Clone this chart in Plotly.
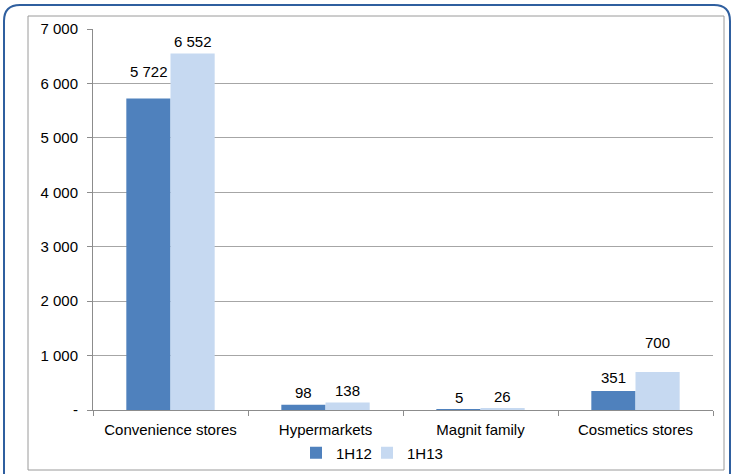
import plotly.graph_objects as go

categories = ["Convenience stores", "Hypermarkets", "Magnit family", "Cosmetics stores"]
series_names = ["1H12", "1H13"]
values_1h12 = [5722, 98, 5, 351]
values_1h13 = [6552, 138, 26, 700]
ytick_vals = [0, 1000, 2000, 3000, 4000, 5000, 6000, 7000]
ytick_text = ["-", "1 000", "2 000", "3 000", "4 000", "5 000", "6 000", "7 000"]

colors = ["#4F81BD", "#C6D9F1"]
# pixel lift of each value label centre above its bar top (style)
label_lift = [[27, 12, 12, 13], [12, 12, 12.5, 29]]

W, H = 733, 474
L, R, T, B = 93, 20, 29, 64
pw, ph = W - L - R, H - T - B

def px(x):
    return (x - L) / pw

def py(y):
    return (H - B - y) / ph

def fmt(v):
    return f"{v:,}".replace(",", " ")

font = dict(family="Liberation Sans, Arial, sans-serif", size=15, color="#000000")

fig = go.Figure()
legend_ids = ["legend", "legend2"]
for name, vals, col, lg in zip(series_names, [values_1h12, values_1h13], colors, legend_ids):
    fig.add_trace(go.Bar(x=categories, y=vals, name=name, legend=lg,
                         marker=dict(color=col, line=dict(width=0))))

annotations = []
bar_w = 44
for s, vals in enumerate([values_1h12, values_1h13]):
    for i, v in enumerate(vals):
        annotations.append(dict(
            x=categories[i], y=v, xref="x", yref="y", text=fmt(v), showarrow=False,
            xshift=(-bar_w / 2 if s == 0 else bar_w / 2), yshift=label_lift[s][i],
            yanchor="middle", xanchor="center", font=font))

# Outer rounded blue frame and inner grey frame
bx0, by0, bx1, by1, r = 4, 5, 730, 490, 16
path = (f"M {px(bx0 + r)},{py(by0)} L {px(bx1 - r)},{py(by0)} "
        f"Q {px(bx1)},{py(by0)} {px(bx1)},{py(by0 + r)} "
        f"L {px(bx1)},{py(by1 - r)} Q {px(bx1)},{py(by1)} {px(bx1 - r)},{py(by1)} "
        f"L {px(bx0 + r)},{py(by1)} Q {px(bx0)},{py(by1)} {px(bx0)},{py(by1 - r)} "
        f"L {px(bx0)},{py(by0 + r)} Q {px(bx0)},{py(by0)} {px(bx0 + r)},{py(by0)} Z")
shapes = [
    dict(type="path", path=path, xref="paper", yref="paper",
         line=dict(color="#2F5F9F", width=2), layer="below"),
    dict(type="rect", xref="paper", yref="paper", x0=px(28), y0=py(16), x1=px(724), y1=py(470),
         line=dict(color="#9A9A9A", width=1), layer="below"),
]

def legend_at(xpix):
    return dict(orientation="h", xref="container", yref="container",
                x=xpix / W, xanchor="left", y=1 - 453 / H, yanchor="middle",
                font=font, itemwidth=30, bgcolor="rgba(0,0,0,0)")

fig.update_layout(
    width=W, height=H,
    margin=dict(l=L, r=R, t=T, b=B, autoexpand=False),
    paper_bgcolor="white", plot_bgcolor="white",
    barmode="group", bargap=0.43, bargroupgap=0,
    font=font,
    showlegend=True,
    legend=legend_at(296),
    legend2=legend_at(367),
    annotations=annotations,
    shapes=shapes,
    xaxis=dict(showline=True, linecolor="#8C8C8C", linewidth=1, tickson="boundaries",
               ticks="outside", ticklen=5, tickcolor="#8C8C8C", showgrid=False,
               tickfont=font, ticklabelstandoff=6, automargin=False),
    yaxis=dict(range=[0, 7000], tickvals=ytick_vals, ticktext=ytick_text,
               showline=True, linecolor="#8C8C8C", linewidth=1,
               ticks="outside", ticklen=5, tickcolor="#8C8C8C",
               showgrid=True, gridcolor="#A6A6A6", gridwidth=1, zeroline=False,
               tickfont=font, ticklabelstandoff=6, automargin=False),
)

fig.write_html("out.html", config={"displayModeBar": False},
               post_script="document.body.style.margin='0';")
